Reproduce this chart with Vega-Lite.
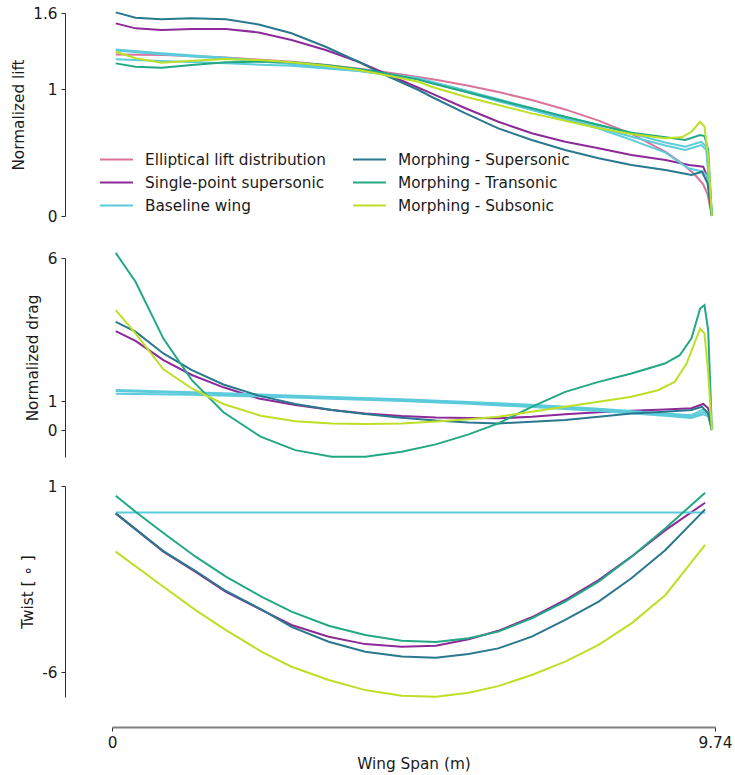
{
"$schema": "https://vega.github.io/schema/vega-lite/v6.json",
"padding": {"left": 11, "top": 0, "right": 0, "bottom": 4},
"bounds": "flush",
"spacing": 0,
"config": {
  "font": "DejaVu Sans",
  "view": {"stroke": null},
  "axis": {"grid": false, "labelFontSize": 15.3, "titleFontSize": 15.3, "titleFontWeight": "normal", "labelColor": "#1a1a1a", "titleColor": "#1a1a1a", "domainColor": "#2b2b2b", "tickColor": "#2b2b2b", "tickSize": 4, "labelPadding": 4, "labelFlush": false, "labelOverlap": false}
},
"resolve": {"scale": {"color": "independent", "x": "independent", "y": "independent"}},
"datasets": {
"lift": [
{"s":"Elliptical lift distribution","r":"1","x":0.06,"y":1.273},{"s":"Elliptical lift distribution","r":"1","x":0.83,"y":1.268},{"s":"Elliptical lift distribution","r":"1","x":1.84,"y":1.25},{"s":"Elliptical lift distribution","r":"1","x":2.9,"y":1.215},{"s":"Elliptical lift distribution","r":"1","x":3.5,"y":1.188},{"s":"Elliptical lift distribution","r":"1","x":4.09,"y":1.155},{"s":"Elliptical lift distribution","r":"1","x":4.68,"y":1.116},{"s":"Elliptical lift distribution","r":"1","x":5.23,"y":1.074},{"s":"Elliptical lift distribution","r":"1","x":5.76,"y":1.027},{"s":"Elliptical lift distribution","r":"1","x":6.24,"y":0.977},{"s":"Elliptical lift distribution","r":"1","x":6.78,"y":0.914},{"s":"Elliptical lift distribution","r":"1","x":7.32,"y":0.84},{"s":"Elliptical lift distribution","r":"1","x":7.86,"y":0.752},{"s":"Elliptical lift distribution","r":"1","x":8.39,"y":0.647},{"s":"Elliptical lift distribution","r":"1","x":8.94,"y":0.505},{"s":"Elliptical lift distribution","r":"1","x":9.2,"y":0.418},{"s":"Elliptical lift distribution","r":"1","x":9.4,"y":0.333},{"s":"Elliptical lift distribution","r":"1","x":9.55,"y":0.25},{"s":"Elliptical lift distribution","r":"1","x":9.62,"y":0.17},{"s":"Elliptical lift distribution","r":"1","x":9.69,"y":0},
{"s":"Single-point supersonic","r":"1","x":0.06,"y":1.518},{"s":"Single-point supersonic","r":"1","x":0.38,"y":1.479},{"s":"Single-point supersonic","r":"1","x":0.8,"y":1.466},{"s":"Single-point supersonic","r":"1","x":1.29,"y":1.474},{"s":"Single-point supersonic","r":"1","x":1.84,"y":1.474},{"s":"Single-point supersonic","r":"1","x":2.37,"y":1.447},{"s":"Single-point supersonic","r":"1","x":2.9,"y":1.387},{"s":"Single-point supersonic","r":"1","x":3.45,"y":1.308},{"s":"Single-point supersonic","r":"1","x":3.98,"y":1.216},{"s":"Single-point supersonic","r":"1","x":4.35,"y":1.137},{"s":"Single-point supersonic","r":"1","x":4.95,"y":1.011},{"s":"Single-point supersonic","r":"1","x":5.16,"y":0.967},{"s":"Single-point supersonic","r":"1","x":5.71,"y":0.849},{"s":"Single-point supersonic","r":"1","x":6.24,"y":0.743},{"s":"Single-point supersonic","r":"1","x":6.78,"y":0.652},{"s":"Single-point supersonic","r":"1","x":7.32,"y":0.586},{"s":"Single-point supersonic","r":"1","x":7.86,"y":0.534},{"s":"Single-point supersonic","r":"1","x":8.39,"y":0.481},{"s":"Single-point supersonic","r":"1","x":8.94,"y":0.441},{"s":"Single-point supersonic","r":"1","x":9.32,"y":0.402},{"s":"Single-point supersonic","r":"1","x":9.55,"y":0.389},{"s":"Single-point supersonic","r":"1","x":9.62,"y":0.3},{"s":"Single-point supersonic","r":"1","x":9.69,"y":0},
{"s":"Baseline wing","r":"a","x":0.06,"y":1.313},{"s":"Baseline wing","r":"a","x":0.8,"y":1.282},{"s":"Baseline wing","r":"a","x":1.84,"y":1.247},{"s":"Baseline wing","r":"a","x":2.9,"y":1.203},{"s":"Baseline wing","r":"a","x":3.98,"y":1.15},{"s":"Baseline wing","r":"a","x":4.95,"y":1.085},{"s":"Baseline wing","r":"a","x":5.71,"y":0.99},{"s":"Baseline wing","r":"a","x":6.24,"y":0.92},{"s":"Baseline wing","r":"a","x":6.78,"y":0.85},{"s":"Baseline wing","r":"a","x":7.32,"y":0.78},{"s":"Baseline wing","r":"a","x":7.86,"y":0.72},{"s":"Baseline wing","r":"a","x":8.39,"y":0.65},{"s":"Baseline wing","r":"a","x":8.94,"y":0.58},{"s":"Baseline wing","r":"a","x":9.26,"y":0.546},{"s":"Baseline wing","r":"a","x":9.52,"y":0.585},{"s":"Baseline wing","r":"a","x":9.6,"y":0.546},{"s":"Baseline wing","r":"a","x":9.69,"y":0},
{"s":"Baseline wing","r":"b","x":0.06,"y":1.305},{"s":"Baseline wing","r":"b","x":0.8,"y":1.275},{"s":"Baseline wing","r":"b","x":1.84,"y":1.24},{"s":"Baseline wing","r":"b","x":2.9,"y":1.198},{"s":"Baseline wing","r":"b","x":3.98,"y":1.145},{"s":"Baseline wing","r":"b","x":4.95,"y":1.08},{"s":"Baseline wing","r":"b","x":5.71,"y":0.98},{"s":"Baseline wing","r":"b","x":6.24,"y":0.905},{"s":"Baseline wing","r":"b","x":6.78,"y":0.835},{"s":"Baseline wing","r":"b","x":7.32,"y":0.765},{"s":"Baseline wing","r":"b","x":7.86,"y":0.7},{"s":"Baseline wing","r":"b","x":8.39,"y":0.625},{"s":"Baseline wing","r":"b","x":8.94,"y":0.555},{"s":"Baseline wing","r":"b","x":9.26,"y":0.52},{"s":"Baseline wing","r":"b","x":9.52,"y":0.559},{"s":"Baseline wing","r":"b","x":9.6,"y":0.52},{"s":"Baseline wing","r":"b","x":9.69,"y":0},
{"s":"Baseline wing","r":"c","x":0.06,"y":1.235},{"s":"Baseline wing","r":"c","x":0.8,"y":1.221},{"s":"Baseline wing","r":"c","x":1.84,"y":1.203},{"s":"Baseline wing","r":"c","x":2.9,"y":1.184},{"s":"Baseline wing","r":"c","x":3.98,"y":1.143},{"s":"Baseline wing","r":"c","x":4.95,"y":1.08},{"s":"Baseline wing","r":"c","x":5.71,"y":0.99},{"s":"Baseline wing","r":"c","x":6.24,"y":0.91},{"s":"Baseline wing","r":"c","x":6.78,"y":0.84},{"s":"Baseline wing","r":"c","x":7.32,"y":0.765},{"s":"Baseline wing","r":"c","x":7.86,"y":0.69},{"s":"Baseline wing","r":"c","x":8.39,"y":0.6},{"s":"Baseline wing","r":"c","x":8.94,"y":0.5},{"s":"Baseline wing","r":"c","x":9.31,"y":0.376},{"s":"Baseline wing","r":"c","x":9.55,"y":0.349},{"s":"Baseline wing","r":"c","x":9.62,"y":0.31},{"s":"Baseline wing","r":"c","x":9.69,"y":0},
{"s":"Morphing - Supersonic","r":"1","x":0.06,"y":1.605},{"s":"Morphing - Supersonic","r":"1","x":0.38,"y":1.563},{"s":"Morphing - Supersonic","r":"1","x":0.8,"y":1.55},{"s":"Morphing - Supersonic","r":"1","x":1.29,"y":1.558},{"s":"Morphing - Supersonic","r":"1","x":1.84,"y":1.55},{"s":"Morphing - Supersonic","r":"1","x":2.37,"y":1.51},{"s":"Morphing - Supersonic","r":"1","x":2.9,"y":1.44},{"s":"Morphing - Supersonic","r":"1","x":3.45,"y":1.334},{"s":"Morphing - Supersonic","r":"1","x":3.98,"y":1.216},{"s":"Morphing - Supersonic","r":"1","x":4.35,"y":1.124},{"s":"Morphing - Supersonic","r":"1","x":4.95,"y":0.993},{"s":"Morphing - Supersonic","r":"1","x":5.16,"y":0.94},{"s":"Morphing - Supersonic","r":"1","x":5.71,"y":0.809},{"s":"Morphing - Supersonic","r":"1","x":6.24,"y":0.691},{"s":"Morphing - Supersonic","r":"1","x":6.78,"y":0.599},{"s":"Morphing - Supersonic","r":"1","x":7.32,"y":0.52},{"s":"Morphing - Supersonic","r":"1","x":7.86,"y":0.455},{"s":"Morphing - Supersonic","r":"1","x":8.39,"y":0.402},{"s":"Morphing - Supersonic","r":"1","x":8.94,"y":0.362},{"s":"Morphing - Supersonic","r":"1","x":9.36,"y":0.323},{"s":"Morphing - Supersonic","r":"1","x":9.53,"y":0.349},{"s":"Morphing - Supersonic","r":"1","x":9.62,"y":0.258},{"s":"Morphing - Supersonic","r":"1","x":9.69,"y":0},
{"s":"Morphing - Transonic","r":"1","x":0.06,"y":1.203},{"s":"Morphing - Transonic","r":"1","x":0.38,"y":1.177},{"s":"Morphing - Transonic","r":"1","x":0.8,"y":1.169},{"s":"Morphing - Transonic","r":"1","x":1.29,"y":1.19},{"s":"Morphing - Transonic","r":"1","x":1.84,"y":1.211},{"s":"Morphing - Transonic","r":"1","x":2.37,"y":1.216},{"s":"Morphing - Transonic","r":"1","x":2.9,"y":1.211},{"s":"Morphing - Transonic","r":"1","x":3.45,"y":1.19},{"s":"Morphing - Transonic","r":"1","x":3.98,"y":1.158},{"s":"Morphing - Transonic","r":"1","x":4.35,"y":1.132},{"s":"Morphing - Transonic","r":"1","x":4.95,"y":1.075},{"s":"Morphing - Transonic","r":"1","x":5.16,"y":1.046},{"s":"Morphing - Transonic","r":"1","x":5.71,"y":0.98},{"s":"Morphing - Transonic","r":"1","x":6.24,"y":0.914},{"s":"Morphing - Transonic","r":"1","x":6.78,"y":0.849},{"s":"Morphing - Transonic","r":"1","x":7.32,"y":0.782},{"s":"Morphing - Transonic","r":"1","x":7.86,"y":0.717},{"s":"Morphing - Transonic","r":"1","x":8.39,"y":0.656},{"s":"Morphing - Transonic","r":"1","x":8.94,"y":0.62},{"s":"Morphing - Transonic","r":"1","x":9.26,"y":0.599},{"s":"Morphing - Transonic","r":"1","x":9.5,"y":0.638},{"s":"Morphing - Transonic","r":"1","x":9.57,"y":0.63},{"s":"Morphing - Transonic","r":"1","x":9.63,"y":0.52},{"s":"Morphing - Transonic","r":"1","x":9.69,"y":0},
{"s":"Morphing - Subsonic","r":"1","x":0.06,"y":1.295},{"s":"Morphing - Subsonic","r":"1","x":0.38,"y":1.243},{"s":"Morphing - Subsonic","r":"1","x":0.8,"y":1.208},{"s":"Morphing - Subsonic","r":"1","x":1.29,"y":1.224},{"s":"Morphing - Subsonic","r":"1","x":1.84,"y":1.237},{"s":"Morphing - Subsonic","r":"1","x":2.37,"y":1.229},{"s":"Morphing - Subsonic","r":"1","x":2.9,"y":1.211},{"s":"Morphing - Subsonic","r":"1","x":3.45,"y":1.184},{"s":"Morphing - Subsonic","r":"1","x":3.98,"y":1.15},{"s":"Morphing - Subsonic","r":"1","x":4.35,"y":1.117},{"s":"Morphing - Subsonic","r":"1","x":4.95,"y":1.058},{"s":"Morphing - Subsonic","r":"1","x":5.16,"y":1.019},{"s":"Morphing - Subsonic","r":"1","x":5.71,"y":0.94},{"s":"Morphing - Subsonic","r":"1","x":6.24,"y":0.875},{"s":"Morphing - Subsonic","r":"1","x":6.78,"y":0.809},{"s":"Morphing - Subsonic","r":"1","x":7.32,"y":0.751},{"s":"Morphing - Subsonic","r":"1","x":7.86,"y":0.691},{"s":"Morphing - Subsonic","r":"1","x":8.39,"y":0.646},{"s":"Morphing - Subsonic","r":"1","x":8.94,"y":0.612},{"s":"Morphing - Subsonic","r":"1","x":9.2,"y":0.62},{"s":"Morphing - Subsonic","r":"1","x":9.36,"y":0.664},{"s":"Morphing - Subsonic","r":"1","x":9.5,"y":0.743},{"s":"Morphing - Subsonic","r":"1","x":9.57,"y":0.704},{"s":"Morphing - Subsonic","r":"1","x":9.63,"y":0.467},{"s":"Morphing - Subsonic","r":"1","x":9.69,"y":0}
],
"drag": [
{"s":"Single-point supersonic","r":"1","x":0.06,"y":3.45},{"s":"Single-point supersonic","r":"1","x":0.38,"y":3.11},{"s":"Single-point supersonic","r":"1","x":0.83,"y":2.44},{"s":"Single-point supersonic","r":"1","x":1.29,"y":1.92},{"s":"Single-point supersonic","r":"1","x":1.8,"y":1.49},{"s":"Single-point supersonic","r":"1","x":2.37,"y":1.1},{"s":"Single-point supersonic","r":"1","x":2.96,"y":0.87},{"s":"Single-point supersonic","r":"1","x":3.55,"y":0.7},{"s":"Single-point supersonic","r":"1","x":4.09,"y":0.58},{"s":"Single-point supersonic","r":"1","x":4.68,"y":0.49},{"s":"Single-point supersonic","r":"1","x":5.23,"y":0.44},{"s":"Single-point supersonic","r":"1","x":5.76,"y":0.42},{"s":"Single-point supersonic","r":"1","x":6.24,"y":0.41},{"s":"Single-point supersonic","r":"1","x":6.78,"y":0.46},{"s":"Single-point supersonic","r":"1","x":7.32,"y":0.55},{"s":"Single-point supersonic","r":"1","x":7.86,"y":0.62},{"s":"Single-point supersonic","r":"1","x":8.39,"y":0.67},{"s":"Single-point supersonic","r":"1","x":8.93,"y":0.72},{"s":"Single-point supersonic","r":"1","x":9.36,"y":0.76},{"s":"Single-point supersonic","r":"1","x":9.55,"y":0.91},{"s":"Single-point supersonic","r":"1","x":9.63,"y":0.76},{"s":"Single-point supersonic","r":"1","x":9.69,"y":0},
{"s":"Baseline wing","r":"a","x":0.06,"y":1.4},{"s":"Baseline wing","r":"a","x":1.29,"y":1.32},{"s":"Baseline wing","r":"a","x":2.4,"y":1.24},{"s":"Baseline wing","r":"a","x":3.55,"y":1.15},{"s":"Baseline wing","r":"a","x":4.68,"y":1.07},{"s":"Baseline wing","r":"a","x":5.76,"y":0.98},{"s":"Baseline wing","r":"a","x":6.78,"y":0.88},{"s":"Baseline wing","r":"a","x":7.86,"y":0.74},{"s":"Baseline wing","r":"a","x":8.93,"y":0.58},{"s":"Baseline wing","r":"a","x":9.36,"y":0.52},{"s":"Baseline wing","r":"a","x":9.55,"y":0.72},{"s":"Baseline wing","r":"a","x":9.63,"y":0.62},{"s":"Baseline wing","r":"a","x":9.69,"y":0},
{"s":"Baseline wing","r":"b","x":0.06,"y":1.36},{"s":"Baseline wing","r":"b","x":1.29,"y":1.28},{"s":"Baseline wing","r":"b","x":2.4,"y":1.21},{"s":"Baseline wing","r":"b","x":3.55,"y":1.12},{"s":"Baseline wing","r":"b","x":4.68,"y":1.04},{"s":"Baseline wing","r":"b","x":5.76,"y":0.95},{"s":"Baseline wing","r":"b","x":6.78,"y":0.84},{"s":"Baseline wing","r":"b","x":7.86,"y":0.7},{"s":"Baseline wing","r":"b","x":8.93,"y":0.53},{"s":"Baseline wing","r":"b","x":9.36,"y":0.47},{"s":"Baseline wing","r":"b","x":9.55,"y":0.63},{"s":"Baseline wing","r":"b","x":9.63,"y":0.55},{"s":"Baseline wing","r":"b","x":9.69,"y":0},
{"s":"Baseline wing","r":"c","x":0.06,"y":1.27},{"s":"Baseline wing","r":"c","x":1.29,"y":1.23},{"s":"Baseline wing","r":"c","x":2.4,"y":1.17},{"s":"Baseline wing","r":"c","x":3.55,"y":1.09},{"s":"Baseline wing","r":"c","x":4.68,"y":1.01},{"s":"Baseline wing","r":"c","x":5.76,"y":0.92},{"s":"Baseline wing","r":"c","x":6.78,"y":0.8},{"s":"Baseline wing","r":"c","x":7.86,"y":0.66},{"s":"Baseline wing","r":"c","x":8.93,"y":0.5},{"s":"Baseline wing","r":"c","x":9.36,"y":0.42},{"s":"Baseline wing","r":"c","x":9.55,"y":0.55},{"s":"Baseline wing","r":"c","x":9.63,"y":0.48},{"s":"Baseline wing","r":"c","x":9.69,"y":0},
{"s":"Morphing - Supersonic","r":"1","x":0.06,"y":3.77},{"s":"Morphing - Supersonic","r":"1","x":0.38,"y":3.43},{"s":"Morphing - Supersonic","r":"1","x":0.83,"y":2.67},{"s":"Morphing - Supersonic","r":"1","x":1.29,"y":2.09},{"s":"Morphing - Supersonic","r":"1","x":1.8,"y":1.59},{"s":"Morphing - Supersonic","r":"1","x":2.37,"y":1.2},{"s":"Morphing - Supersonic","r":"1","x":2.96,"y":0.91},{"s":"Morphing - Supersonic","r":"1","x":3.55,"y":0.7},{"s":"Morphing - Supersonic","r":"1","x":4.09,"y":0.56},{"s":"Morphing - Supersonic","r":"1","x":4.68,"y":0.43},{"s":"Morphing - Supersonic","r":"1","x":5.23,"y":0.33},{"s":"Morphing - Supersonic","r":"1","x":5.76,"y":0.26},{"s":"Morphing - Supersonic","r":"1","x":6.24,"y":0.23},{"s":"Morphing - Supersonic","r":"1","x":6.78,"y":0.29},{"s":"Morphing - Supersonic","r":"1","x":7.32,"y":0.35},{"s":"Morphing - Supersonic","r":"1","x":7.86,"y":0.46},{"s":"Morphing - Supersonic","r":"1","x":8.39,"y":0.58},{"s":"Morphing - Supersonic","r":"1","x":8.93,"y":0.64},{"s":"Morphing - Supersonic","r":"1","x":9.36,"y":0.7},{"s":"Morphing - Supersonic","r":"1","x":9.53,"y":0.81},{"s":"Morphing - Supersonic","r":"1","x":9.63,"y":0.58},{"s":"Morphing - Supersonic","r":"1","x":9.69,"y":0},
{"s":"Morphing - Transonic","r":"1","x":0.06,"y":6.18},{"s":"Morphing - Transonic","r":"1","x":0.38,"y":5.17},{"s":"Morphing - Transonic","r":"1","x":0.83,"y":3.19},{"s":"Morphing - Transonic","r":"1","x":1.29,"y":1.74},{"s":"Morphing - Transonic","r":"1","x":1.8,"y":0.62},{"s":"Morphing - Transonic","r":"1","x":2.4,"y":-0.23},{"s":"Morphing - Transonic","r":"1","x":2.96,"y":-0.7},{"s":"Morphing - Transonic","r":"1","x":3.55,"y":-0.93},{"s":"Morphing - Transonic","r":"1","x":4.09,"y":-0.93},{"s":"Morphing - Transonic","r":"1","x":4.68,"y":-0.76},{"s":"Morphing - Transonic","r":"1","x":5.23,"y":-0.5},{"s":"Morphing - Transonic","r":"1","x":5.76,"y":-0.15},{"s":"Morphing - Transonic","r":"1","x":6.24,"y":0.23},{"s":"Morphing - Transonic","r":"1","x":6.78,"y":0.81},{"s":"Morphing - Transonic","r":"1","x":7.32,"y":1.33},{"s":"Morphing - Transonic","r":"1","x":7.86,"y":1.68},{"s":"Morphing - Transonic","r":"1","x":8.39,"y":1.97},{"s":"Morphing - Transonic","r":"1","x":8.93,"y":2.32},{"s":"Morphing - Transonic","r":"1","x":9.17,"y":2.61},{"s":"Morphing - Transonic","r":"1","x":9.36,"y":3.2},{"s":"Morphing - Transonic","r":"1","x":9.5,"y":4.24},{"s":"Morphing - Transonic","r":"1","x":9.57,"y":4.36},{"s":"Morphing - Transonic","r":"1","x":9.63,"y":3.48},{"s":"Morphing - Transonic","r":"1","x":9.69,"y":0},
{"s":"Morphing - Subsonic","r":"1","x":0.06,"y":4.18},{"s":"Morphing - Subsonic","r":"1","x":0.38,"y":3.37},{"s":"Morphing - Subsonic","r":"1","x":0.83,"y":2.12},{"s":"Morphing - Subsonic","r":"1","x":1.29,"y":1.45},{"s":"Morphing - Subsonic","r":"1","x":1.8,"y":0.91},{"s":"Morphing - Subsonic","r":"1","x":2.4,"y":0.5},{"s":"Morphing - Subsonic","r":"1","x":2.96,"y":0.31},{"s":"Morphing - Subsonic","r":"1","x":3.55,"y":0.23},{"s":"Morphing - Subsonic","r":"1","x":4.09,"y":0.21},{"s":"Morphing - Subsonic","r":"1","x":4.68,"y":0.23},{"s":"Morphing - Subsonic","r":"1","x":5.23,"y":0.3},{"s":"Morphing - Subsonic","r":"1","x":5.76,"y":0.38},{"s":"Morphing - Subsonic","r":"1","x":6.24,"y":0.46},{"s":"Morphing - Subsonic","r":"1","x":6.78,"y":0.64},{"s":"Morphing - Subsonic","r":"1","x":7.32,"y":0.81},{"s":"Morphing - Subsonic","r":"1","x":7.86,"y":0.99},{"s":"Morphing - Subsonic","r":"1","x":8.39,"y":1.16},{"s":"Morphing - Subsonic","r":"1","x":8.82,"y":1.39},{"s":"Morphing - Subsonic","r":"1","x":9.09,"y":1.68},{"s":"Morphing - Subsonic","r":"1","x":9.28,"y":2.32},{"s":"Morphing - Subsonic","r":"1","x":9.5,"y":3.54},{"s":"Morphing - Subsonic","r":"1","x":9.57,"y":3.37},{"s":"Morphing - Subsonic","r":"1","x":9.63,"y":2.0},{"s":"Morphing - Subsonic","r":"1","x":9.69,"y":0}
],
"twist": [
{"s":"Single-point supersonic","r":"1","x":0.06,"y":-0.03},{"s":"Single-point supersonic","r":"1","x":0.83,"y":-1.47},{"s":"Single-point supersonic","r":"1","x":1.35,"y":-2.23},{"s":"Single-point supersonic","r":"1","x":1.84,"y":-2.98},{"s":"Single-point supersonic","r":"1","x":2.42,"y":-3.67},{"s":"Single-point supersonic","r":"1","x":2.9,"y":-4.23},{"s":"Single-point supersonic","r":"1","x":3.5,"y":-4.67},{"s":"Single-point supersonic","r":"1","x":4.09,"y":-4.95},{"s":"Single-point supersonic","r":"1","x":4.68,"y":-5.05},{"s":"Single-point supersonic","r":"1","x":5.23,"y":-5.01},{"s":"Single-point supersonic","r":"1","x":5.76,"y":-4.77},{"s":"Single-point supersonic","r":"1","x":6.24,"y":-4.45},{"s":"Single-point supersonic","r":"1","x":6.78,"y":-3.94},{"s":"Single-point supersonic","r":"1","x":7.32,"y":-3.29},{"s":"Single-point supersonic","r":"1","x":7.86,"y":-2.54},{"s":"Single-point supersonic","r":"1","x":8.39,"y":-1.66},{"s":"Single-point supersonic","r":"1","x":8.94,"y":-0.66},{"s":"Single-point supersonic","r":"1","x":9.58,"y":0.37},
{"s":"Baseline wing","r":"a","x":0.06,"y":0},{"s":"Baseline wing","r":"a","x":9.58,"y":0},
{"s":"Morphing - Supersonic","r":"1","x":0.06,"y":-0.03},{"s":"Morphing - Supersonic","r":"1","x":0.83,"y":-1.45},{"s":"Morphing - Supersonic","r":"1","x":1.35,"y":-2.2},{"s":"Morphing - Supersonic","r":"1","x":1.84,"y":-2.95},{"s":"Morphing - Supersonic","r":"1","x":2.42,"y":-3.65},{"s":"Morphing - Supersonic","r":"1","x":2.9,"y":-4.3},{"s":"Morphing - Supersonic","r":"1","x":3.5,"y":-4.86},{"s":"Morphing - Supersonic","r":"1","x":4.09,"y":-5.24},{"s":"Morphing - Supersonic","r":"1","x":4.68,"y":-5.42},{"s":"Morphing - Supersonic","r":"1","x":5.23,"y":-5.46},{"s":"Morphing - Supersonic","r":"1","x":5.76,"y":-5.32},{"s":"Morphing - Supersonic","r":"1","x":6.24,"y":-5.11},{"s":"Morphing - Supersonic","r":"1","x":6.78,"y":-4.67},{"s":"Morphing - Supersonic","r":"1","x":7.32,"y":-4.04},{"s":"Morphing - Supersonic","r":"1","x":7.86,"y":-3.35},{"s":"Morphing - Supersonic","r":"1","x":8.39,"y":-2.47},{"s":"Morphing - Supersonic","r":"1","x":8.94,"y":-1.41},{"s":"Morphing - Supersonic","r":"1","x":9.58,"y":0.12},
{"s":"Morphing - Transonic","r":"1","x":0.06,"y":0.635},{"s":"Morphing - Transonic","r":"1","x":0.38,"y":0.033},{"s":"Morphing - Transonic","r":"1","x":0.83,"y":-0.77},{"s":"Morphing - Transonic","r":"1","x":1.35,"y":-1.66},{"s":"Morphing - Transonic","r":"1","x":1.84,"y":-2.41},{"s":"Morphing - Transonic","r":"1","x":2.42,"y":-3.17},{"s":"Morphing - Transonic","r":"1","x":2.9,"y":-3.73},{"s":"Morphing - Transonic","r":"1","x":3.5,"y":-4.26},{"s":"Morphing - Transonic","r":"1","x":4.09,"y":-4.61},{"s":"Morphing - Transonic","r":"1","x":4.68,"y":-4.82},{"s":"Morphing - Transonic","r":"1","x":5.23,"y":-4.87},{"s":"Morphing - Transonic","r":"1","x":5.76,"y":-4.73},{"s":"Morphing - Transonic","r":"1","x":6.24,"y":-4.48},{"s":"Morphing - Transonic","r":"1","x":6.78,"y":-3.98},{"s":"Morphing - Transonic","r":"1","x":7.32,"y":-3.35},{"s":"Morphing - Transonic","r":"1","x":7.86,"y":-2.6},{"s":"Morphing - Transonic","r":"1","x":8.39,"y":-1.66},{"s":"Morphing - Transonic","r":"1","x":8.94,"y":-0.59},{"s":"Morphing - Transonic","r":"1","x":9.58,"y":0.75},
{"s":"Morphing - Subsonic","r":"1","x":0.06,"y":-1.47},{"s":"Morphing - Subsonic","r":"1","x":0.83,"y":-2.79},{"s":"Morphing - Subsonic","r":"1","x":1.35,"y":-3.67},{"s":"Morphing - Subsonic","r":"1","x":1.84,"y":-4.42},{"s":"Morphing - Subsonic","r":"1","x":2.42,"y":-5.24},{"s":"Morphing - Subsonic","r":"1","x":2.9,"y":-5.8},{"s":"Morphing - Subsonic","r":"1","x":3.5,"y":-6.3},{"s":"Morphing - Subsonic","r":"1","x":4.09,"y":-6.68},{"s":"Morphing - Subsonic","r":"1","x":4.68,"y":-6.89},{"s":"Morphing - Subsonic","r":"1","x":5.23,"y":-6.93},{"s":"Morphing - Subsonic","r":"1","x":5.76,"y":-6.78},{"s":"Morphing - Subsonic","r":"1","x":6.24,"y":-6.53},{"s":"Morphing - Subsonic","r":"1","x":6.78,"y":-6.11},{"s":"Morphing - Subsonic","r":"1","x":7.32,"y":-5.61},{"s":"Morphing - Subsonic","r":"1","x":7.86,"y":-4.98},{"s":"Morphing - Subsonic","r":"1","x":8.39,"y":-4.17},{"s":"Morphing - Subsonic","r":"1","x":8.94,"y":-3.1},{"s":"Morphing - Subsonic","r":"1","x":9.58,"y":-1.22}
]
},
"vconcat": [
{
  "width": 603, "height": 216,
  "data": {"name": "lift"},
  "mark": {"type": "line", "strokeWidth": 2},
  "encoding": {
    "x": {"field": "x", "type": "quantitative", "scale": {"domain": [0, 9.74], "nice": false, "zero": false}, "axis": null},
    "y": {"field": "y", "type": "quantitative", "scale": {"domain": [0, 1.6], "range": [216, 13], "nice": false, "zero": false}, "axis": {"title": "Normalized lift", "offset": 47, "values": [0, 1, 1.6], "labelExpr": "'' + datum.value", "titlePadding": 6.5}},
    "color": {"field": "s", "type": "nominal",
      "scale": {"domain": ["Elliptical lift distribution","Single-point supersonic","Baseline wing","Morphing - Supersonic","Morphing - Transonic","Morphing - Subsonic"], "range": ["#d8749c","#8c2a98","#5ccbdb","#2a788e","#22a884","#bddf26"]},
      "legend": {"orient": "none", "legendX": -13, "legendY": 152, "title": null, "columns": 2, "symbolType": "stroke", "symbolSize": 1089, "symbolStrokeWidth": 2, "labelFontSize": 15.3, "labelColor": "#1a1a1a", "clipHeight": 15, "rowPadding": 7, "columnPadding": 26, "labelOffset": 11, "padding": 0, "labelLimit": 400}},
    "detail": {"field": "r"}
  }
},
{
  "width": 603, "height": 241,
  "data": {"name": "drag"},
  "mark": {"type": "line", "strokeWidth": 2},
  "encoding": {
    "x": {"field": "x", "type": "quantitative", "scale": {"domain": [0, 9.74], "nice": false, "zero": false}, "axis": null},
    "y": {"field": "y", "type": "quantitative", "scale": {"domain": [-0.94, 6], "range": [241, 42], "nice": false, "zero": false}, "axis": {"title": "Normalized drag", "offset": 47, "values": [0, 1, 6], "labelExpr": "'' + datum.value", "titlePadding": 6.5}},
    "color": {"field": "s", "type": "nominal",
      "scale": {"domain": ["Elliptical lift distribution","Single-point supersonic","Baseline wing","Morphing - Supersonic","Morphing - Transonic","Morphing - Subsonic"], "range": ["#d8749c","#8c2a98","#5ccbdb","#2a788e","#22a884","#bddf26"]},
      "legend": null},
    "detail": {"field": "r"}
  }
},
{
  "width": 603, "height": 240,
  "data": {"name": "twist"},
  "mark": {"type": "line", "strokeWidth": 2},
  "encoding": {
    "x": {"field": "x", "type": "quantitative", "scale": {"domain": [0, 9.74], "nice": false, "zero": false}, "axis": {"title": "Wing Span (m)", "offset": 30, "values": [0, 9.74], "labelExpr": "'' + datum.value", "domainColor": "#808080", "domainWidth": 2, "titlePadding": 6}},
    "y": {"field": "y", "type": "quantitative", "scale": {"domain": [-6.94, 1], "range": [240, 29], "nice": false, "zero": false}, "axis": {"title": "Twist [ ∘ ]", "offset": 47, "values": [-6, 1], "labelExpr": "'' + datum.value", "titlePadding": 6.5}},
    "color": {"field": "s", "type": "nominal",
      "scale": {"domain": ["Elliptical lift distribution","Single-point supersonic","Baseline wing","Morphing - Supersonic","Morphing - Transonic","Morphing - Subsonic"], "range": ["#d8749c","#8c2a98","#5ccbdb","#2a788e","#22a884","#bddf26"]},
      "legend": null},
    "detail": {"field": "r"}
  }
}
]
}
